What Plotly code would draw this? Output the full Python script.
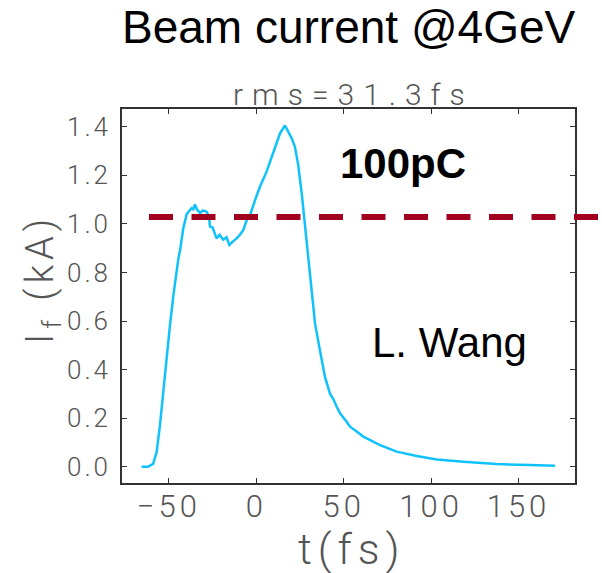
import plotly.graph_objects as go

# Data
t_fs = [-65.6, -62, -59, -57, -55.1, -53.2, -51.3, -49.4, -47.5, -45.5, -44.5, -43.6,
        -41.8, -39.8, -38.5, -37, -36, -35.1, -34, -32.2, -30.5, -28.4, -27, -26.5,
        -25, -22.7, -21, -18.9, -17, -15.4, -13, -11.2, -9.3, -7.4, -5.5, -3.6, -0.7,
        2.1, 5.9, 7.5, 9.7, 11.5, 13.6, 15, 16.4, 17.5, 18.5, 20.3, 22.1, 24, 26, 27.9,
        29.7, 31.7, 33.6, 36.4, 39.3, 42.2, 44, 46, 47.9, 51.7, 53.6, 57.4, 61.2, 70.8,
        80.3, 91.8, 103.2, 118.4, 137.5, 156.6, 170.9]
current_kA = [0.0, 0.0, 0.012, 0.06, 0.17, 0.31, 0.46, 0.58, 0.70, 0.81, 0.86, 0.89,
              0.98, 1.04, 1.05, 1.065, 1.06, 1.08, 1.06, 1.045, 1.055, 1.05, 1.03, 0.99,
              0.985, 0.94, 0.955, 0.935, 0.945, 0.913, 0.93, 0.94, 0.955, 0.975, 1.015, 1.035, 1.098,
              1.153, 1.215, 1.25, 1.297, 1.33, 1.373, 1.39, 1.405, 1.39, 1.375, 1.352, 1.317, 1.242, 1.125, 0.988,
              0.851, 0.714, 0.59, 0.48, 0.37, 0.30, 0.28, 0.247, 0.22, 0.185, 0.165, 0.145, 0.124, 0.089,
              0.062, 0.044, 0.030, 0.021, 0.011, 0.007, 0.004]
threshold_kA = 1.028

x_ticks = [-50, 0, 50, 100, 150]
y_ticks = [0.0, 0.2, 0.4, 0.6, 0.8, 1.0, 1.2, 1.4]

thin_font = "Roboto"
axis_gray = "#555555"

fig = go.Figure()
fig.add_trace(go.Scatter(x=t_fs, y=current_kA, mode="lines",
                         line=dict(color="#10c2fb", width=2.5), showlegend=False))

fig.add_shape(type="line", xref="paper", yref="y", x0=0.0596, x1=1.053,
              y0=threshold_kA, y1=threshold_kA,
              line=dict(color="#a2001f", width=6, dash="24px,18.5px"))

fig.update_layout(
    width=602, height=573,
    margin=dict(l=122, r=27, t=109, b=90),
    paper_bgcolor="white", plot_bgcolor="white",
    xaxis=dict(range=[-76.8, 182.3], tickvals=x_ticks, ticks="inside", ticklen=5,
               showline=True, linecolor="#333333", linewidth=1.5, mirror="ticks",
               tickcolor="#333333", showgrid=False, zeroline=False, ticklabelstandoff=-5,
               tickfont=dict(family=thin_font, size=31, color=axis_gray, weight=300)),
    yaxis=dict(range=[-0.067, 1.473], tickvals=y_ticks, tickformat=".1f", ticks="inside",
               ticklen=5, showline=True, linecolor="#333333", linewidth=1.5, mirror="ticks",
               tickcolor="#333333", showgrid=False, zeroline=False, ticklabelstandoff=4,
               tickfont=dict(family=thin_font, size=26, color=axis_gray, weight=300)),
)

ann = [
    dict(text="Beam current @4GeV", x=0.502, y=1.218, font=dict(family="Liberation Sans", size=46, color="black")),
    dict(text="rms=31.3fs", x=0.51, y=1.04, font=dict(family=thin_font, size=30, color=axis_gray, weight=300)),
    dict(text="<b>100pC</b>", x=0.62, y=0.855, font=dict(family="Liberation Sans", size=42, color="black")),
    dict(text="L. Wang", x=0.722, y=0.375, font=dict(family="Liberation Sans", size=42, color="black")),
    dict(text="t(fs)", x=0.508, y=-0.176, font=dict(family=thin_font, size=43, color=axis_gray, weight=300)),
    dict(text="I<sub>f</sub> (kA)", x=-0.176, y=0.545, textangle=-90,
         font=dict(family=thin_font, size=38, color=axis_gray, weight=300)),
]
for a in ann:
    a.update(xref="paper", yref="paper", showarrow=False, xanchor="center", yanchor="middle")
    fig.add_annotation(**a)

# Wide letter spacing of the thin axis texts, as in the reference
css = (".xtick text{letter-spacing:4px}"
       ".ytick text{letter-spacing:3px}"
       "g.annotation[data-index='1'] text{letter-spacing:9px}"
       "g.annotation[data-index='4'] text{letter-spacing:6px}"
       "g.annotation[data-index='5'] text{letter-spacing:5px}")
post = ("var s=document.createElement('style');s.textContent=\"" + css + "\";"
        "document.head.appendChild(s);")

fig.write_html("out.html", post_script=post)
